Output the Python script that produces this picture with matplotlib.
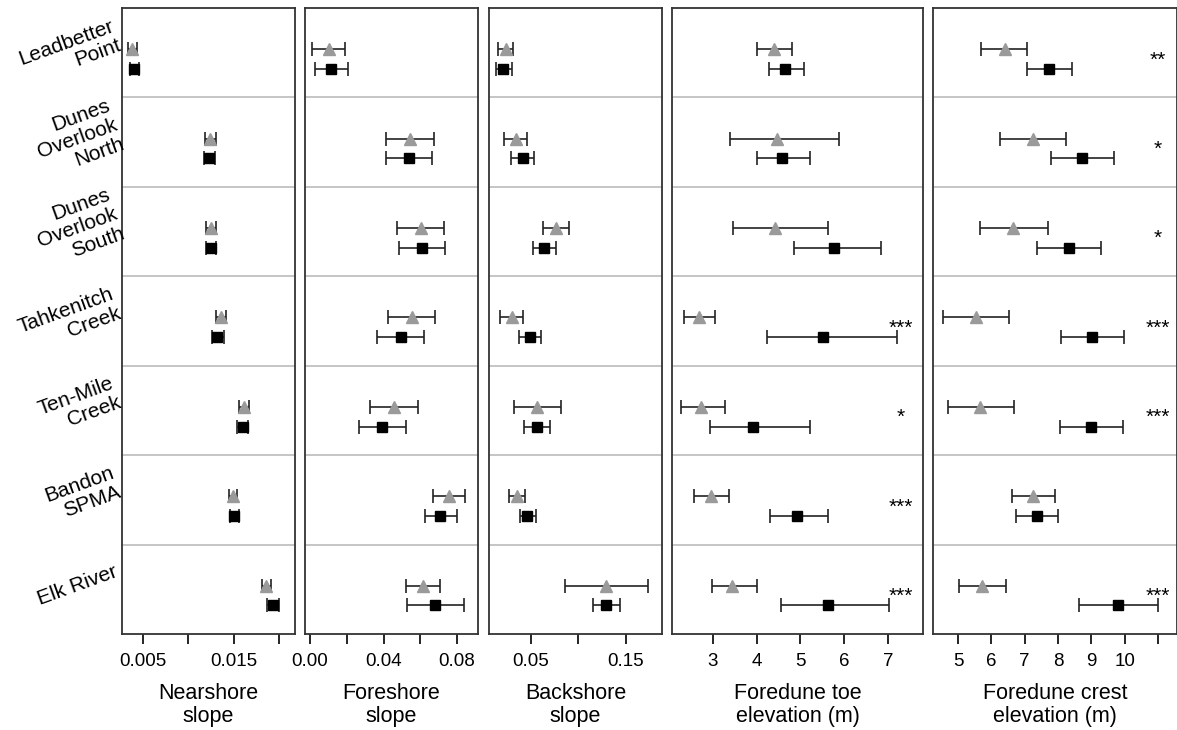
import numpy as np
from matplotlib import pyplot as plt

plt.rcParams['font.family'] = ['Liberation Sans', 'DejaVu Sans']

sites = ['Leadbetter\nPoint', 'Dunes\nOverlook\nNorth', 'Dunes\nOverlook\nSouth',
         'Tahkenitch\nCreek', 'Ten-Mile\nCreek', 'Bandon\nSPMA', 'Elk River']

# each variable: grey (mean, low, high), black (mean, low, high) per site
near_grey = [(0.0038, 0.00333, 0.00432), (0.0124, 0.0118, 0.0130), (0.0125, 0.0119, 0.0130),
             (0.0136, 0.0130, 0.0142), (0.0161, 0.0156, 0.0167), (0.0149, 0.0145, 0.0154),
             (0.0186, 0.0181, 0.0191)]
near_black = [(0.00404, 0.0036, 0.0046), (0.0123, 0.0117, 0.0129), (0.0125, 0.0119, 0.0130),
              (0.0132, 0.0126, 0.0139), (0.0160, 0.0154, 0.0166), (0.0150, 0.0146, 0.0156),
              (0.0193, 0.0187, 0.0200)]
fore_grey = [(0.0101, 0.001, 0.0189), (0.0543, 0.0414, 0.0672), (0.0603, 0.0474, 0.0728),
             (0.0554, 0.0423, 0.0681), (0.0456, 0.0327, 0.0585), (0.0754, 0.0669, 0.0841),
             (0.0614, 0.0525, 0.0705)]
fore_black = [(0.0117, 0.0027, 0.0207), (0.0537, 0.0413, 0.0665), (0.0607, 0.0483, 0.0736),
              (0.0494, 0.0367, 0.0621), (0.0392, 0.0265, 0.0523), (0.0708, 0.0627, 0.0798),
              (0.0678, 0.0529, 0.0836)]
back_grey = [(0.0234, 0.0152, 0.0317), (0.0343, 0.0223, 0.0458), (0.0762, 0.0626, 0.090),
             (0.0298, 0.0178, 0.0419), (0.057, 0.0319, 0.0814), (0.035, 0.0273, 0.044),
             (0.129, 0.086, 0.173)]
back_black = [(0.0212, 0.0133, 0.0298), (0.0414, 0.029, 0.0534), (0.0643, 0.0519, 0.0769),
              (0.049, 0.0374, 0.0612), (0.056, 0.0423, 0.0702), (0.0465, 0.0385, 0.0556),
              (0.129, 0.115, 0.144)]
toe_grey = [(4.39, 4.0, 4.80), (4.46, 3.39, 5.88), (4.42, 3.46, 5.63), (2.68, 2.35, 3.06),
            (2.73, 2.27, 3.27), (2.95, 2.58, 3.37), (3.45, 2.98, 4.0)]
toe_black = [(4.65, 4.29, 5.08), (4.57, 4.02, 5.23), (5.76, 4.86, 6.83), (5.51, 4.23, 7.2),
             (3.91, 2.94, 5.21), (4.92, 4.30, 5.64), (5.64, 4.55, 7.02)]
crest_grey = [(6.40, 5.69, 7.08), (7.25, 6.27, 8.24), (6.65, 5.67, 7.69), (5.54, 4.55, 6.54),
              (5.67, 4.69, 6.68), (7.25, 6.62, 7.90), (5.73, 5.03, 6.44)]
crest_black = [(7.73, 7.07, 8.41), (8.72, 7.79, 9.67), (8.33, 7.38, 9.29), (9.03, 8.08, 9.99),
               (9.0, 8.05, 9.96), (7.37, 6.75, 8.01), (9.80, 8.64, 11.0)]
toe_sig = ['', '', '', '***', '*', '***', '***']
crest_sig = ['**', '*', '*', '***', '***', '', '***']

panels = [
    ('Nearshore\nslope', near_grey, near_black, None, (0.00268, 0.02177),
     [0.005, 0.010, 0.015, 0.020], ['0.005', '', '0.015', '']),
    ('Foreshore\nslope', fore_grey, fore_black, None, (-0.0027, 0.0914),
     [0.0, 0.02, 0.04, 0.06, 0.08], ['0.00', '', '0.04', '', '0.08']),
    ('Backshore\nslope', back_grey, back_black, None, (0.006, 0.188),
     [0.05, 0.10, 0.15], ['0.05', '', '0.15']),
    ('Foredune toe\nelevation (m)', toe_grey, toe_black, (toe_sig, 7.3), (2.07, 7.80),
     [3, 4, 5, 6, 7], ['3', '4', '5', '6', '7']),
    ('Foredune crest\nelevation (m)', crest_grey, crest_black, (crest_sig, 11.0), (4.25, 11.57),
     [5, 6, 7, 8, 9, 10, 11], ['5', '6', '7', '8', '9', '10', '']),
]
edges = [(122, 295), (305, 478), (489, 662), (672, 923), (933, 1177)]

W, H = 1177, 730
fig = plt.figure(figsize=(W / 100, H / 100), dpi=100)
bottom, top = 1 - 634 / H, 1 - 8 / H
rows = np.arange(len(sites))

for k, (label, grey, black, sig, xlim, ticks, tlabels) in enumerate(panels):
    x0, x1 = edges[k]
    ax = fig.add_axes([x0 / W, bottom, (x1 - x0) / W, top - bottom])
    for r in range(1, len(sites)):
        ax.axhline(r, color='#c0c0c0', lw=1.3, zorder=0)
    g = np.array(grey)
    b = np.array(black)
    ax.errorbar(g[:, 0], rows + 0.46, xerr=[g[:, 0] - g[:, 1], g[:, 2] - g[:, 0]],
                fmt='^', color='#9a9a9a', ecolor='#222222', elinewidth=1.2,
                capsize=5, capthick=1.2, markersize=8)
    ax.errorbar(b[:, 0], rows + 0.68, xerr=[b[:, 0] - b[:, 1], b[:, 2] - b[:, 0]],
                fmt='s', color='black', ecolor='#222222', elinewidth=1.2,
                capsize=5, capthick=1.2, markersize=7)
    if sig is not None:
        for r, s in enumerate(sig[0]):
            if s:
                ax.text(sig[1], r + 0.58, s, ha='center', va='center', fontsize=15)
    ax.set_ylim(len(sites), 0)
    ax.set_yticks([])
    ax.set_xlim(*xlim)
    ax.set_xticks(ticks)
    ax.set_xticklabels(tlabels, fontsize=13.5)
    ax.tick_params(axis='x', length=7, width=1.2, pad=7)
    ax.set_xlabel(label, fontsize=15.5, labelpad=9, linespacing=1.15)
    for sp in ax.spines.values():
        sp.set_linewidth(1.3)
        sp.set_color('#333333')
    if k == 0:
        for r, s in enumerate(sites):
            ax.text(-0.03, r + 0.3, s, transform=ax.get_yaxis_transform(),
                    ha='right', va='center', rotation=20, rotation_mode='anchor',
                    fontsize=15, linespacing=1.1, multialignment='right')

plt.savefig('out.png', dpi=100)
